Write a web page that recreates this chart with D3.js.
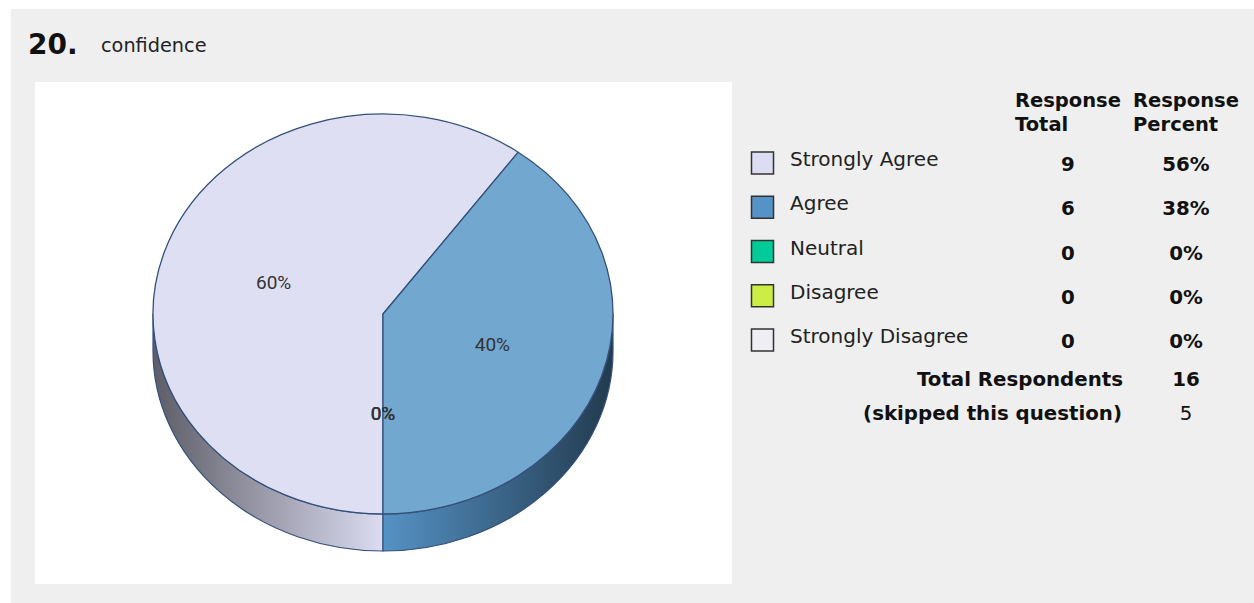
<!DOCTYPE html>
<html>
<head>
<meta charset="utf-8">
<script src="https://cdn.jsdelivr.net/npm/d3@7"></script>
<style>
  body { margin: 0; background: #ffffff; }
  svg { display: block; }
</style>
</head>
<body>
<svg id="chart" width="1254" height="603"></svg>
<script>
// Data
var questionNumber = "20.";
var questionText = "confidence";
var categories = ["Strongly Agree", "Agree", "Neutral", "Disagree", "Strongly Disagree"];
var totals = [9, 6, 0, 0, 0];
var percents = ["56%", "38%", "0%", "0%", "0%"];
var headers = [["Response", "Total"], ["Response", "Percent"]];
var totalRespondents = 16;
var skipped = 5;

var width = 1254, height = 603;
var svg = d3.select("#chart");

// pie colours (top face) and legend / wall colours
var topColor = d3.scaleOrdinal().domain(categories)
  .range(["#dedff3", "#72a7d0", "#00cc99", "#ccee44", "#eeeef4"]);
var baseColor = d3.scaleOrdinal().domain(categories)
  .range(["#dcdcf2", "#5592c5", "#00cc99", "#ccee44", "#eeeef4"]);

// Background panels
svg.append("rect").attr("x", 11).attr("y", 9)
  .attr("width", width - 11).attr("height", height - 9)
  .attr("fill", "#efefef");
svg.append("rect").attr("x", 35).attr("y", 82)
  .attr("width", 697).attr("height", 502)
  .attr("fill", "#ffffff");

// Title
svg.append("text").attr("x", 28).attr("y", 54)
  .attr("font-family", "DejaVu Sans, Verdana, sans-serif")
  .attr("font-weight", "bold").attr("font-size", "28px").attr("fill", "#111")
  .text(questionNumber);
svg.append("text").attr("x", 101).attr("y", 52)
  .attr("font-family", "DejaVu Sans, Verdana, sans-serif")
  .attr("font-size", "19.3px").attr("fill", "#222")
  .text(questionText);

// 3D pie
var cx = 383, cy = 314, rx = 230, ry = 200, depth = 37;
var ex = d3.scaleLinear().domain([-1, 1]).range([cx - rx, cx + rx]);
var ey = d3.scaleLinear().domain([-1, 1]).range([cy - ry, cy + ry]);
function pt(a, dy) { return [ex(Math.sin(a)), ey(-Math.cos(a)) + (dy || 0)]; }

var pie = d3.pie().sort(null).startAngle(Math.PI).endAngle(3 * Math.PI);
var arcs = pie(totals);
var sum = d3.sum(totals);
var fmt = d3.format(".0%");

var defs = svg.append("defs");
categories.forEach(function(c, i) {
  var col = d3.color(baseColor(c));
  var g = defs.append("linearGradient").attr("id", "wall" + i)
    .attr("gradientUnits", "userSpaceOnUse")
    .attr("x1", cx - rx).attr("x2", cx + rx).attr("y1", 0).attr("y2", 0);
  g.append("stop").attr("offset", 0).attr("stop-color", col.darker(2.4));
  g.append("stop").attr("offset", 0.5).attr("stop-color", col);
  g.append("stop").attr("offset", 1).attr("stop-color", col.darker(2.6));
});

var stroke = "#34507a";

// walls: front half only (angles between PI/2 and 3PI/2, mod 2PI)
var walls = [];
arcs.forEach(function(d, i) {
  [0, 2 * Math.PI].forEach(function(off) {
    var a0 = Math.max(d.startAngle - off, Math.PI / 2);
    var a1 = Math.min(d.endAngle - off, 3 * Math.PI / 2);
    if (a1 > a0) walls.push({ i: i, a0: a0, a1: a1 });
  });
});

svg.selectAll("path.wall")
  .data(walls)
  .enter()
  .append("path")
    .attr("class", "wall")
    .attr("d", function(w) {
      var p0 = pt(w.a0), p1 = pt(w.a1), q1 = pt(w.a1, depth), q0 = pt(w.a0, depth);
      return "M" + p0 + "A" + rx + "," + ry + " 0 0 1 " + p1 +
             "L" + q1 + "A" + rx + "," + ry + " 0 0 0 " + q0 + "Z";
    })
    .attr("fill", function(w) { return "url(#wall" + w.i + ")"; })
    .attr("stroke", stroke).attr("stroke-width", 1.2)
    .attr("stroke-linejoin", "round");

// top faces
svg.selectAll("path.slice")
  .data(arcs.filter(function(d) { return d.value > 0; }))
  .enter()
  .append("path")
    .attr("class", "slice")
    .attr("d", function(d) {
      var p0 = pt(d.startAngle), p1 = pt(d.endAngle);
      var large = (d.endAngle - d.startAngle) > Math.PI ? 1 : 0;
      return "M" + cx + "," + cy + "L" + p0 + "A" + rx + "," + ry + " 0 " + large + " 1 " + p1 + "Z";
    })
    .attr("fill", function(d, i) { return topColor(categories[d.index]); })
    .attr("stroke", stroke).attr("stroke-width", 1.3)
    .attr("stroke-linejoin", "round");

// slice labels
svg.selectAll("text.plabel")
  .data(arcs)
  .enter()
  .append("text")
    .attr("class", "plabel")
    .attr("x", function(d) { return pt((d.startAngle + d.endAngle) / 2)[0] * 0.5 + cx * 0.5; })
    .attr("y", function(d) { return pt((d.startAngle + d.endAngle) / 2)[1] * 0.5 + cy * 0.5 + 6; })
    .attr("text-anchor", "middle")
    .attr("font-family", "Roboto, Liberation Sans, Arial, sans-serif")
    .attr("font-size", "19px").attr("fill", "#333")
    .text(function(d) { return fmt(d.value / sum); });

// Legend / table
var rowY = d3.scalePoint().domain(categories).range([163, 340]);
var colTotal = 1068, colPct = 1186;
var tableFont = "DejaVu Sans, Verdana, sans-serif";
var fs = "19.8px";

var hdr = svg.append("g").attr("font-family", tableFont)
  .attr("font-weight", "bold").attr("font-size", "19.5px").attr("fill", "#111");
headers.forEach(function(h, j) {
  h.forEach(function(line, k) {
    hdr.append("text").attr("x", j === 0 ? 1015 : 1133).attr("y", 107 + k * 24).text(line);
  });
});

var rows = svg.selectAll("g.row")
  .data(categories)
  .enter()
  .append("g")
    .attr("class", "row")
    .attr("transform", function(d) { return "translate(0," + rowY(d) + ")"; });

rows.append("rect")
  .attr("x", 751.5).attr("y", -11).attr("width", 22).attr("height", 22)
  .attr("fill", function(d) { return baseColor(d); })
  .attr("stroke", "#333").attr("stroke-width", 1.5);
rows.append("text")
  .attr("x", 790).attr("y", 3)
  .attr("font-family", tableFont).attr("font-size", "20px").attr("fill", "#222")
  .text(function(d) { return d; });
rows.append("text")
  .attr("x", colTotal).attr("y", 8).attr("text-anchor", "middle")
  .attr("font-family", tableFont).attr("font-weight", "bold")
  .attr("font-size", fs).attr("fill", "#111")
  .text(function(d, i) { return totals[i]; });
rows.append("text")
  .attr("x", colPct).attr("y", 8).attr("text-anchor", "middle")
  .attr("font-family", tableFont).attr("font-weight", "bold")
  .attr("font-size", fs).attr("fill", "#111")
  .text(function(d, i) { return percents[i]; });

var foot = svg.append("g").attr("font-family", tableFont)
  .attr("font-size", fs).attr("fill", "#111");
foot.append("text").attr("x", 1123).attr("y", 386).attr("text-anchor", "end")
  .attr("font-weight", "bold").text("Total Respondents");
foot.append("text").attr("x", colPct).attr("y", 386).attr("text-anchor", "middle")
  .attr("font-weight", "bold").text(totalRespondents);
foot.append("text").attr("x", 1122).attr("y", 420).attr("text-anchor", "end")
  .attr("font-weight", "bold").text("(skipped this question)");
foot.append("text").attr("x", colPct).attr("y", 420).attr("text-anchor", "middle")
  .text(skipped);
</script>
</body>
</html>
